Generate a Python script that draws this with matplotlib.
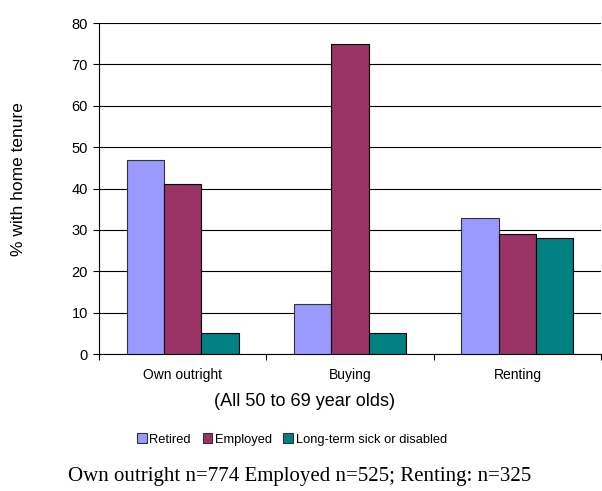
import numpy as np
import matplotlib
matplotlib.use("Agg")
import matplotlib.pyplot as plt
from matplotlib.patches import Patch

plt.rcParams['font.family'] = ['Liberation Sans', 'DejaVu Sans']

categories = ["Own outright", "Buying", "Renting"]
series_names = ["Retired", "Employed", "Long-term sick or disabled"]
retired = [47, 12, 33]
employed = [41, 75, 29]
sick = [5, 5, 28]
colors = ["#9999FF", "#993366", "#008080"]

fig = plt.figure(figsize=(6.02, 4.91), dpi=100)
ax = fig.add_axes([0.1645, 0.279, 0.834, 0.674])

x = np.arange(len(categories))
w = 0.223
for i, vals in enumerate([retired, employed, sick]):
    ax.bar(x + (i - 1) * w, vals, width=w, color=colors[i],
           edgecolor="#333333" if i == 0 else "black", linewidth=0.8, zorder=3)

ax.set_xlim(-0.5, 2.5)
ax.set_ylim(0, 80)
ax.set_yticks(range(0, 81, 10))
ax.yaxis.grid(True, color="black", linewidth=0.8, zorder=0)
ax.set_axisbelow(True)

# category ticks at the group boundaries
ax.set_xticks([-0.5, 0.5, 1.5, 2.5])
ax.set_xticklabels([])
ax.set_xticks(x, minor=True)
ax.set_xticklabels(categories, minor=True, fontsize=10)
ax.tick_params(axis='x', which='minor', length=0, pad=10)
ax.tick_params(axis='x', which='major', length=4, direction='out', width=0.8)
ax.tick_params(axis='y', length=4, width=0.8, labelsize=10.5, pad=4)

for s in ["top", "right"]:
    ax.spines[s].set_visible(False)
ax.spines["left"].set_linewidth(0.8)
ax.spines["bottom"].set_linewidth(0.8)

fig.text(0.03, 0.635, "% with home tenure", fontsize=12.5, rotation=90,
         ha="center", va="center")
fig.text(0.505, 0.183, "(All 50 to 69 year olds)", fontsize=13,
         ha="center", va="center")

handles = [Patch(facecolor=c, edgecolor="#333333", linewidth=0.8) for c in colors]
fig.legend(handles, series_names, loc="center", bbox_to_anchor=(0.485, 0.105),
           ncol=3, frameon=False, fontsize=9.3, handlelength=0.75, handleheight=0.75,
           handletextpad=0.2, columnspacing=0.9)

fig.text(0.497, 0.03, "Own outright n=774 Employed n=525; Renting: n=325",
         family=["Liberation Serif", "DejaVu Serif"], fontsize=15, ha="center", va="center")

fig.savefig("out.png", dpi=100)
